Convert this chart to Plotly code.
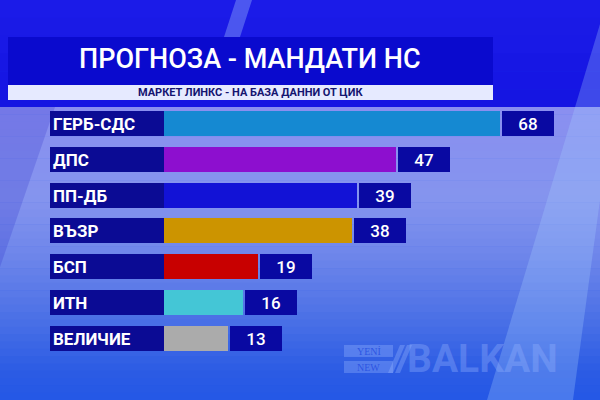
import plotly.graph_objects as go

# ---------------- data ----------------
parties = ["ГЕРБ-СДС", "ДПС", "ПП-ДБ", "ВЪЗР", "БСП", "ИТН", "ВЕЛИЧИЕ"]
seats = [68, 47, 39, 38, 19, 16, 13]
bar_colors = ["#1589d2", "#8d0fcf", "#1212d6", "#cc9400", "#c80000", "#44c6d6", "#ababab"]
title_text = "ПРОГНОЗА - МАНДАТИ НС"
subtitle_text = "МАРКЕТ ЛИНКС - НА БАЗА ДАННИ ОТ ЦИК"

# ---------------- geometry (pixels) ----------------
W, H = 600, 400
PX0 = 164.0      # pixel where value 0 sits
K = 4.94         # pixels per seat
ROW0 = 123.5     # centre of first row
ROWSTEP = 35.83  # row spacing
BARH = 25.0

def px(x):
    return x / W

def py(y):
    return 1 - y / H

label_w = (PX0 - 50) / K
gap = 2 / K
vbox_w = 52 / K

fig = go.Figure()

fig.add_trace(go.Bar(
    y=parties, x=[label_w] * len(parties), base=-label_w, orientation="h",
    marker=dict(color="#0b0b94", line=dict(width=0)), width=BARH / ROWSTEP,
    text=parties, textposition="inside", insidetextanchor="start", textangle=0,
    constraintext="none",
    textfont=dict(family="Roboto", size=17, color="white", weight="bold"),
    hoverinfo="skip", showlegend=False))

fig.add_trace(go.Bar(
    y=parties, x=seats, base=0, orientation="h",
    marker=dict(color=bar_colors, line=dict(width=0)), width=BARH / ROWSTEP,
    hoverinfo="skip", showlegend=False))

fig.add_trace(go.Bar(
    y=parties, x=[vbox_w] * len(parties), base=[s + gap for s in seats], orientation="h",
    marker=dict(color="#0909a2", line=dict(width=0)), width=BARH / ROWSTEP,
    text=[str(s) for s in seats], textposition="inside", insidetextanchor="middle",
    textangle=0, constraintext="none",
    textfont=dict(family="Roboto", size=17, color="white", weight=500),
    hoverinfo="skip", showlegend=False))

shapes = []

def hexrgb(h):
    h = h.lstrip("#")
    return tuple(int(h[i:i + 2], 16) for i in (0, 2, 4))

def band_gradient(stops, y0, y1, n):
    out = []
    step = (y1 - y0) / n
    for i in range(n):
        ya = y0 + i * step
        yc = ya + step / 2
        for j in range(len(stops) - 1):
            if stops[j][0] <= yc <= stops[j + 1][0]:
                t = (yc - stops[j][0]) / (stops[j + 1][0] - stops[j][0])
                c0, c1 = hexrgb(stops[j][1]), hexrgb(stops[j + 1][1])
                c = tuple(round(c0[k] + (c1[k] - c0[k]) * t) for k in range(3))
                break
        out.append(dict(type="rect", xref="paper", yref="paper", x0=0, x1=1,
                        y0=py(min(ya + step + 0.5, y1)), y1=py(ya), fillcolor="rgb(%d,%d,%d)" % c,
                        line=dict(width=0), layer="below"))
    return out

top_stops = [(0, "#1c1ce8"), (107, "#1414e2")]
low_stops = [(107, "#8a8ff0"), (200, "#8494ee"), (260, "#6c84ea"), (320, "#4a70e6"),
             (370, "#2c5ce4"), (400, "#2458e6")]
shapes += band_gradient(top_stops, 0, 107, 6)
shapes += band_gradient(low_stops, 107, 400, 40)

def poly(points, color):
    d = "M " + " L ".join("%f,%f" % (px(x), py(y)) for x, y in points) + " Z"
    return dict(type="path", xref="paper", yref="paper", path=d, fillcolor=color,
                line=dict(width=0), layer="below")

# diagonal light / dark streaks
shapes.append(poly([(0, 107), (55, 107), (0, 267)], "rgba(40,40,200,0.22)"))
shapes.append(poly([(600, 24), (600, 200), (573, 400), (487, 400)], "rgba(170,210,255,0.28)"))
shapes.append(poly([(236, 0), (252, 0), (240, 37), (224, 37)], "rgba(170,200,255,0.35)"))

# title band + subtitle band
shapes.append(dict(type="rect", xref="paper", yref="paper", x0=px(8), x1=px(493),
                   y0=py(85), y1=py(37), fillcolor="#0a0ace", line=dict(width=0), layer="below"))
shapes.append(dict(type="rect", xref="paper", yref="paper", x0=px(8), x1=px(493),
                   y0=py(100), y1=py(85), fillcolor="#e6eaff", line=dict(width=0), layer="below"))

# watermark boxes
wm = "rgba(150,180,255,0.35)"
shapes.append(dict(type="rect", xref="paper", yref="paper", x0=px(344), x1=px(393),
                   y0=py(357), y1=py(345), fillcolor=wm, line=dict(width=0), layer="below"))
shapes.append(dict(type="rect", xref="paper", yref="paper", x0=px(344), x1=px(393),
                   y0=py(373), y1=py(361), fillcolor=wm, line=dict(width=0), layer="below"))
shapes.append(poly([(400, 345), (405, 345), (393, 373), (388, 373)], wm))
shapes.append(poly([(407, 345), (412, 345), (400, 373), (395, 373)], wm))

annotations = [
    dict(text=title_text, x=px(250), y=py(59), xref="paper", yref="paper",
         showarrow=False, xanchor="center", yanchor="middle",
         font=dict(family="Roboto", size=27, color="white", weight=500)),
    dict(text=subtitle_text, x=px(250), y=py(92.5), xref="paper", yref="paper",
         showarrow=False, xanchor="center", yanchor="middle",
         font=dict(family="Roboto", size=11, color="#141470", weight="bold")),
    dict(text="BALKAN", x=px(405), y=py(359), xref="paper", yref="paper",
         showarrow=False, xanchor="left", yanchor="middle",
         font=dict(family="Roboto", size=39, color=wm, weight="bold")),
    dict(text="YENİ", x=px(368.5), y=py(351), xref="paper", yref="paper",
         showarrow=False, xanchor="center", yanchor="middle",
         font=dict(family="Liberation Serif", size=10, color="rgba(40,80,225,0.9)")),
    dict(text="NEW", x=px(368.5), y=py(367), xref="paper", yref="paper",
         showarrow=False, xanchor="center", yanchor="middle",
         font=dict(family="Liberation Serif", size=10, color="rgba(40,80,225,0.9)")),
]

fig.update_layout(
    width=W, height=H, margin=dict(l=0, r=0, t=0, b=0),
    paper_bgcolor="#2458e6", plot_bgcolor="rgba(0,0,0,0)",
    barmode="overlay", bargap=0,
    xaxis=dict(range=[-PX0 / K, (W - PX0) / K], visible=False, fixedrange=True),
    yaxis=dict(type="category", categoryorder="array", categoryarray=parties,
               range=[(H - ROW0) / ROWSTEP, -ROW0 / ROWSTEP], visible=False, fixedrange=True),
    shapes=shapes, annotations=annotations, showlegend=False,
    uniformtext=dict(mode=False),
)

fig.write_html("out.html", config=dict(displayModeBar=False),
               post_script="document.body.style.margin='0';document.body.style.overflow='hidden';")
